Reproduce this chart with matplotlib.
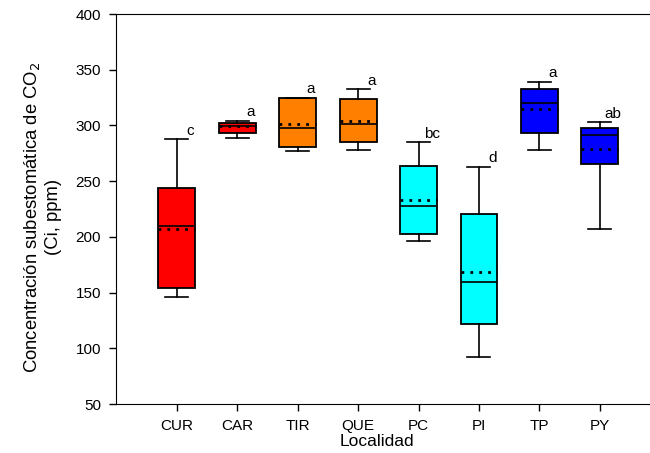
import matplotlib.pyplot as plt

plt.rcParams['font.family'] = ['Liberation Sans', 'DejaVu Sans']

# Box statistics (ppm)
sites = ['CUR', 'CAR', 'TIR', 'QUE', 'PC', 'PI', 'TP', 'PY']
whis_lo = [145.7, 289.0, 276.8, 278.2, 196.6, 92.5, 278.2, 207.0]
q1 = [154.4, 293.5, 280.3, 285.4, 202.8, 121.8, 293.5, 265.4]
medians = [210.0, 299.5, 298.0, 301.3, 228.0, 159.2, 319.8, 291.4]
means = [207.0, 299.5, 301.0, 304.0, 233.0, 168.7, 314.5, 279.1]
q3 = [243.6, 302.5, 325.0, 323.7, 263.6, 220.5, 333.0, 298.0]
whis_hi = [287.5, 304.0, 325.0, 332.4, 284.8, 263.0, 339.0, 302.8]
letters = ['c', 'a', 'a', 'a', 'bc', 'd', 'a', 'ab']
colors = ['#FF0000', '#FF0000', '#FF8000', '#FF8000',
          '#00FFFF', '#00FFFF', '#0000FF', '#0000FF']

stats = []
for i in range(len(sites)):
    stats.append({'label': sites[i], 'whislo': whis_lo[i], 'q1': q1[i],
                  'med': medians[i], 'mean': means[i], 'q3': q3[i],
                  'whishi': whis_hi[i], 'fliers': []})

fig = plt.figure(figsize=(6.5, 4.53), dpi=100)
ax = fig.add_axes([0.179, 0.108, 0.821, 0.861])

pos = list(range(1, len(sites) + 1))
bp = ax.bxp(stats, positions=pos, widths=0.61, capwidths=0.38,
            patch_artist=True, showmeans=True, meanline=True,
            boxprops=dict(edgecolor='black', linewidth=1.3),
            medianprops=dict(color='black', linewidth=1.2),
            meanprops=dict(color='black', linestyle=(0, (1, 2.2)), linewidth=2.0),
            whiskerprops=dict(color='black', linewidth=1.2),
            capprops=dict(color='black', linewidth=1.2))
for patch, c in zip(bp['boxes'], colors):
    patch.set_facecolor(c)

for x, top, lab in zip(pos, whis_hi, letters):
    ax.text(x + 0.22, top + 1.5, lab, ha='center', va='bottom', fontsize=11)

ax.set_xlim(0, 8.83)
ax.set_ylim(50, 400)
ax.set_yticks(range(50, 401, 50))
ax.set_xticks(pos)
ax.set_xticklabels(sites)
ax.spines['right'].set_visible(False)
ax.tick_params(direction='out', length=5, width=1, labelsize=11, pad=6)

ax.set_xlabel('Localidad', fontsize=12.5)
ax.xaxis.set_label_coords(0.489, -0.078)
ax.set_ylabel('Concentración subestomática de CO$_2$\n(Ci, ppm)',
              fontsize=13.3, linespacing=1.25)
ax.yaxis.set_label_coords(-0.102, 0.48)

fig.savefig('out.png', dpi=100)
